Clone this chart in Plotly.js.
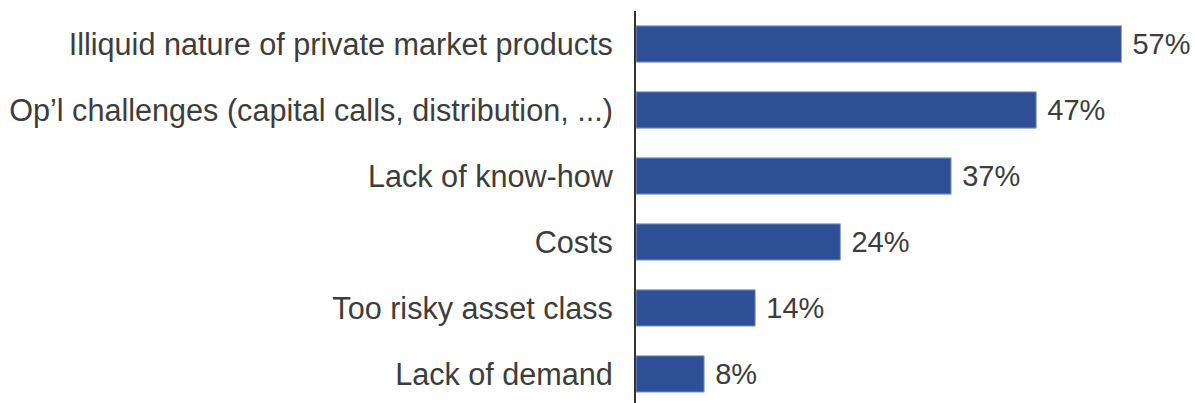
<!DOCTYPE html>
<html>
<head>
<meta charset="utf-8">
<script src="https://cdn.plot.ly/plotly-3.0.1.min.js"></script>
<style>
  html, body { margin: 0; padding: 0; background: #fff; }
  #chart { width: 1195px; height: 403px; }
</style>
</head>
<body>
<div id="chart"></div>
<script>
const categories = [
    'Illiquid nature of private market products',
    'Op\u2019l challenges (capital calls, distribution, ...)',
    'Lack of know-how',
    'Costs',
    'Too risky asset class',
    'Lack of demand'
];
const values = [57, 47, 37, 24, 14, 8];
const labels = values.map(v => '\u00a0' + v + '%');

const trace = {
    type: 'bar',
    orientation: 'h',
    y: categories,
    x: values,
    text: labels,
    textposition: 'outside',
    cliponaxis: false,
    textfont: { family: 'Liberation Sans, Arial, sans-serif', size: 29, color: '#3d3d3d' },
    marker: { color: '#2E4F95', line: { color: '#8FA6D4', width: 1 } },
    width: 0.55,
    hoverinfo: 'none'
};

Plotly.newPlot('chart', [trace], {
    width: 1195,
    height: 403,
    margin: { l: 636, r: 8, t: 11, b: 0 },
    xaxis: {
        range: [0, 64.7],
        visible: false,
        fixedrange: true
    },
    yaxis: {
        type: 'category',
        range: [5.44, -0.5],
        showline: true,
        linecolor: '#333333',
        linewidth: 2,
        showgrid: false,
        zeroline: false,
        ticks: '',
        ticklabelstandoff: 15,
        tickfont: { family: 'Liberation Sans, Arial, sans-serif', size: 30.6, color: '#3d3d3d' }
    },
    plot_bgcolor: '#ffffff',
    paper_bgcolor: '#ffffff',
    showlegend: false,
    bargap: 0.45
}, { displayModeBar: false, staticPlot: true });
</script>
</body>
</html>
